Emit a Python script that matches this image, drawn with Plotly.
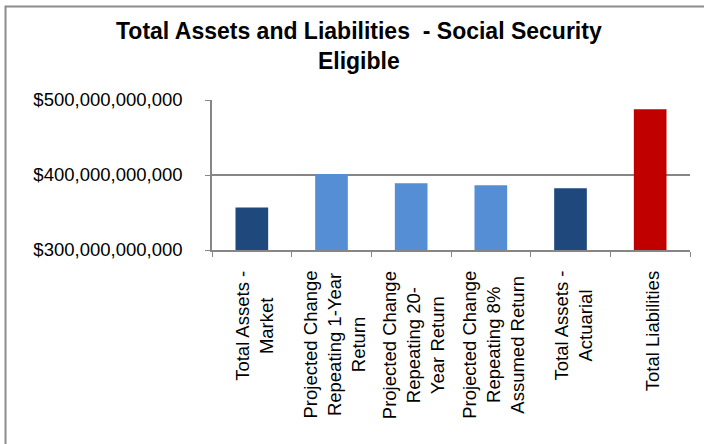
import plotly.graph_objects as go

categories = [
    "Total Assets - Market",
    "Projected Change Repeating 1-Year Return",
    "Projected Change Repeating 20-Year Return",
    "Projected Change Repeating 8% Assumed Return",
    "Total Assets - Actuarial",
    "Total Liabilities",
]
label_lines = [
    ["Total Assets -", "Market"],
    ["Projected Change", "Repeating 1-Year", "Return"],
    ["Projected Change", "Repeating 20-", "Year Return"],
    ["Projected Change", "Repeating 8%", "Assumed Return"],
    ["Total Assets -", "Actuarial"],
    ["Total Liabilities"],
]
values = [356.8e9, 401.3e9, 389.0e9, 386.5e9, 382.5e9, 487.8e9]
bar_colors = ["#1F497D", "#558ED5", "#558ED5", "#558ED5", "#1F497D", "#C00000"]
y_ticks = [300e9, 400e9, 500e9]
title_lines = ["Total Assets and Liabilities  - Social Security", "Eligible"]

FONT = "Liberation Sans, Arial, sans-serif"
W, H = 704, 444
L, R, T, B = 212, 14, 100, 194
pw, ph = W - L - R, H - T - B


def px_x(p):
    return (p - L) / pw


def px_y(p):
    return (H - B - p) / ph


fig = go.Figure(
    go.Bar(
        x=categories,
        y=values,
        marker=dict(color=bar_colors, line=dict(width=0)),
        width=0.41,
        hoverinfo="skip",
    )
)

annotations = []
for cat, lines in zip(categories, label_lines):
    annotations.append(dict(
        x=cat, xref="x", y=px_y(269), yref="paper",
        text="<br>".join(lines), showarrow=False, textangle=-90,
        xanchor="center", yanchor="top", align="center",
        font=dict(family=FONT, size=18.5, color="#000000"),
        xshift=2,
    ))
annotations.append(dict(
    x=px_x(358.5), xref="paper", y=px_y(46), yref="paper",
    text="<br>".join("<b>" + t + "</b>" for t in title_lines), showarrow=False,
    xanchor="center", yanchor="middle", align="center",
    font=dict(family=FONT, size=23, color="#000000"),
))

fig.update_layout(
    width=W, height=H,
    margin=dict(l=L, r=R, t=T, b=B, pad=0),
    paper_bgcolor="white", plot_bgcolor="white",
    showlegend=False,
    annotations=annotations,
    shapes=[dict(
        type="rect", xref="paper", yref="paper",
        x0=px_x(5.5), x1=px_x(720), y0=px_y(460), y1=px_y(6.5),
        line=dict(color="#8C8C8C", width=2), fillcolor="rgba(0,0,0,0)",
        layer="below",
    )],
    xaxis=dict(
        type="category", showticklabels=False,
        tickson="boundaries", ticks="outside", ticklen=5, tickcolor="#868686",
        showline=True, linecolor="#868686", linewidth=1.5,
        showgrid=False, zeroline=False, fixedrange=True,
    ),
    yaxis=dict(
        range=[300e9, 500e9], tickvals=y_ticks, tickformat="$,.0f",
        ticks="outside", ticklen=5, tickcolor="#868686",
        ticklabelstandoff=19,
        showline=True, linecolor="#868686", linewidth=1.5,
        showgrid=True, gridcolor="#868686", gridwidth=1.5,
        zeroline=False, fixedrange=True,
        tickfont=dict(family=FONT, size=18.5, color="#000000"),
    ),
)

fig.write_html(
    "out.html",
    config={"displayModeBar": False},
    post_script="document.body.style.margin='0';document.body.style.overflow='hidden';",
)
